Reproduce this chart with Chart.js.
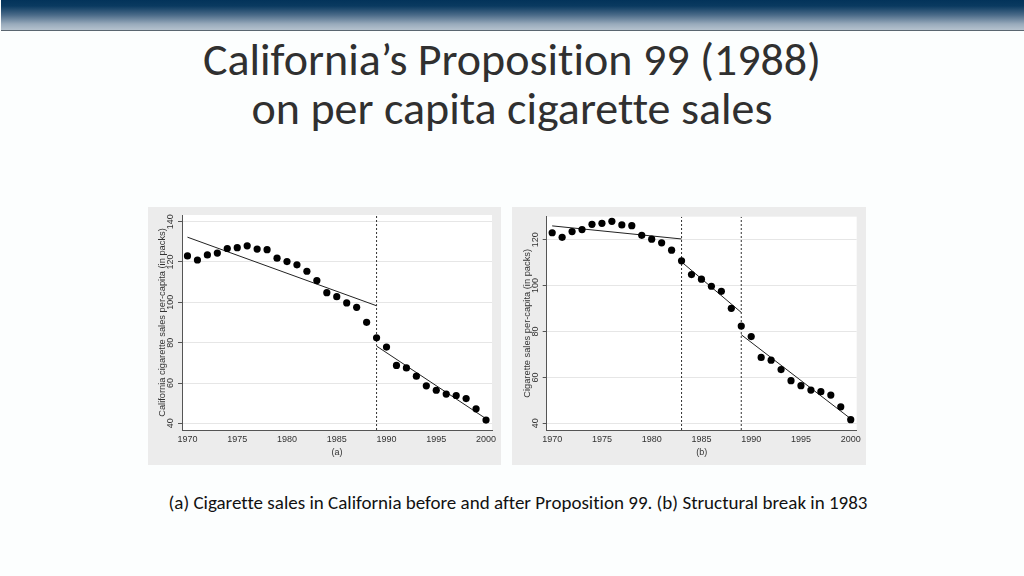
<!DOCTYPE html>
<html>
<head>
<meta charset="utf-8">
<script src="https://cdn.jsdelivr.net/npm/chart.js@4/dist/chart.umd.min.js"></script>
<style>
  body { margin: 0; width: 1024px; height: 576px; background: #fcfefe; position: relative; overflow: hidden;
    font-family: Carlito, "Open Sans", sans-serif; font-variant-ligatures: none; }
  .banner { position: absolute; left: 1px; top: 0; width: 1023px; height: 30px;
    background: linear-gradient(#03335a 0%, #0a3a60 20%, #4a6a88 50%, #98aabb 80%, #b5c2ce 100%);
    border-bottom: 1px solid #5a6670; }
  .title { position: absolute; left: 0; width: 1024px; top: 35px; text-align: center; color: #303030;
    font-size: 46px; line-height: 49px; font-weight: 300; }
  .panel { position: absolute; top: 207px; height: 258px; background: #ececec; }
  .caption { position: absolute; left: 0; width: 1036px; top: 491px; text-align: center; color: #111; font-size: 19px; }
</style>
</head>
<body>
<div class="banner"></div>
<div class="title">California’s Proposition 99 (1988)<br>on per capita cigarette sales</div>
<div class="panel" style="left:148px;width:353px"><canvas id="chartA"></canvas></div>
<div class="panel" style="left:512px;width:354px"><canvas id="chartB"></canvas></div>
<div class="caption">(a) Cigarette sales in California before and after Proposition 99. (b) Structural break in 1983</div>
<script>
// California per-capita cigarette sales (packs)
var years = [1970,1971,1972,1973,1974,1975,1976,1977,1978,1979,1980,1981,1982,1983,1984,1985,1986,1987,1988,1989,1990,1991,1992,1993,1994,1995,1996,1997,1998,1999,2000];
var sales = [123.0,121.0,123.5,124.4,126.7,127.1,128.0,126.4,126.1,121.9,120.2,118.6,115.4,110.8,104.8,102.8,99.7,97.5,90.1,82.4,77.8,68.7,67.5,63.4,58.6,56.4,54.5,53.8,52.3,47.2,41.6];

// fitted trend segments: [startYear, endYear] and [startValue, endValue]
var fitA1Years = [1970, 1989], fitA1Vals = [132.3, 98.3];
var fitA2Years = [1989, 2000], fitA2Vals = [78.3, 42.3];
var fitB1Years = [1970, 1983], fitB1Vals = [126.0, 120.3];
var fitB2Years = [1983, 1989], fitB2Vals = [110.3, 88.3];
var fitB3Years = [1989, 2000], fitB3Vals = [78.6, 42.0];

var breaksA = [1989];
var breaksB = [1983, 1989];

var xTicks = [1970, 1975, 1980, 1985, 1990, 1995, 2000];
var yTicksA = [40, 60, 80, 100, 120, 140];
var yTicksB = [40, 60, 80, 100, 120];

var font = { family: "'Liberation Sans', Arial, sans-serif", size: 9 };
var titleFont = { family: "'Liberation Sans', Arial, sans-serif", size: 9.3 };

function seg(xs, ys) {
  return xs.map(function(x, i){ return { x: x, y: ys[i] }; });
}

var whiteArea = {
  id: 'whiteArea',
  beforeDraw: function(chart) {
    var a = chart.chartArea, c = chart.ctx;
    c.save(); c.fillStyle = '#ffffff';
    c.fillRect(a.left, a.top, a.right - a.left, a.bottom - a.top);
    c.restore();
  }
};

function makeChart(id, fits, breaks, yTicks, ymin, ymax, ytitle, xtitle, pad) {
  var datasets = [{
    type: 'scatter',
    data: seg(years, sales),
    pointRadius: 3.6, pointBackgroundColor: '#000', pointBorderWidth: 0,
    showLine: false
  }];
  fits.forEach(function(f) {
    datasets.push({ type: 'line', data: seg(f[0], f[1]), borderColor: '#222', borderWidth: 1,
      pointRadius: 0, fill: false });
  });
  breaks.forEach(function(b) {
    datasets.push({ type: 'line', data: seg([b, b], [ymin, ymax]), borderColor: '#333', borderWidth: 1,
      borderDash: [2, 2], pointRadius: 0, fill: false });
  });
  return new Chart(document.getElementById(id), {
    type: 'scatter',
    data: { datasets: datasets },
    plugins: [whiteArea],
    options: {
      responsive: false, animation: false, devicePixelRatio: 1,
      layout: { padding: pad },
      plugins: { legend: { display: false }, tooltip: { enabled: false } },
      scales: {
        x: {
          type: 'linear', min: 1969.45, max: 2000.6,
          afterBuildTicks: function(s){ s.ticks = xTicks.map(function(v){ return { value: v }; }); },
          afterFit: function(s){ s.height = 35; },
          grid: { display: false, drawOnChartArea: false, drawTicks: true, tickLength: 4, color: '#555' },
          border: { color: '#555', width: 1 },
          ticks: { font: font, color: '#333', padding: 0, maxRotation: 0, callback: function(v){ return String(v); } },
          title: { display: true, text: xtitle, font: font, color: '#333', padding: { top: 0, bottom: 7 } }
        },
        y: {
          min: ymin, max: ymax,
          afterBuildTicks: function(s){ s.ticks = yTicks.map(function(v){ return { value: v }; }); },
          afterFit: function(s){ s.width = 34; },
          grid: { color: '#e6e6e6', tickColor: '#555', tickLength: 4 },
          border: { color: '#555', width: 1 },
          ticks: { font: font, color: '#333', padding: 0, minRotation: 90, maxRotation: 90, crossAlign: 'center' },
          title: { display: true, text: ytitle, font: titleFont, color: '#333', padding: { top: 9, bottom: 0 } }
        }
      }
    }
  });
}

var canA = document.getElementById('chartA'); canA.width = 353; canA.height = 258;
var canB = document.getElementById('chartB'); canB.width = 354; canB.height = 258;

makeChart('chartA',
  [[fitA1Years, fitA1Vals], [fitA2Years, fitA2Vals]],
  breaksA, yTicksA, 36.7, 143.3,
  'California cigarette sales per-capita (in packs)', '(a)',
  { left: 0, top: 8, right: 9, bottom: 0 });

makeChart('chartB',
  [[fitB1Years, fitB1Vals], [fitB2Years, fitB2Vals], [fitB3Years, fitB3Vals]],
  breaksB, yTicksB, 37.1, 130,
  'Cigarette sales per-capita (in packs)', '(b)',
  { left: 0.7, top: 9.7, right: 9.3, bottom: 0 });
</script>
</body>
</html>
